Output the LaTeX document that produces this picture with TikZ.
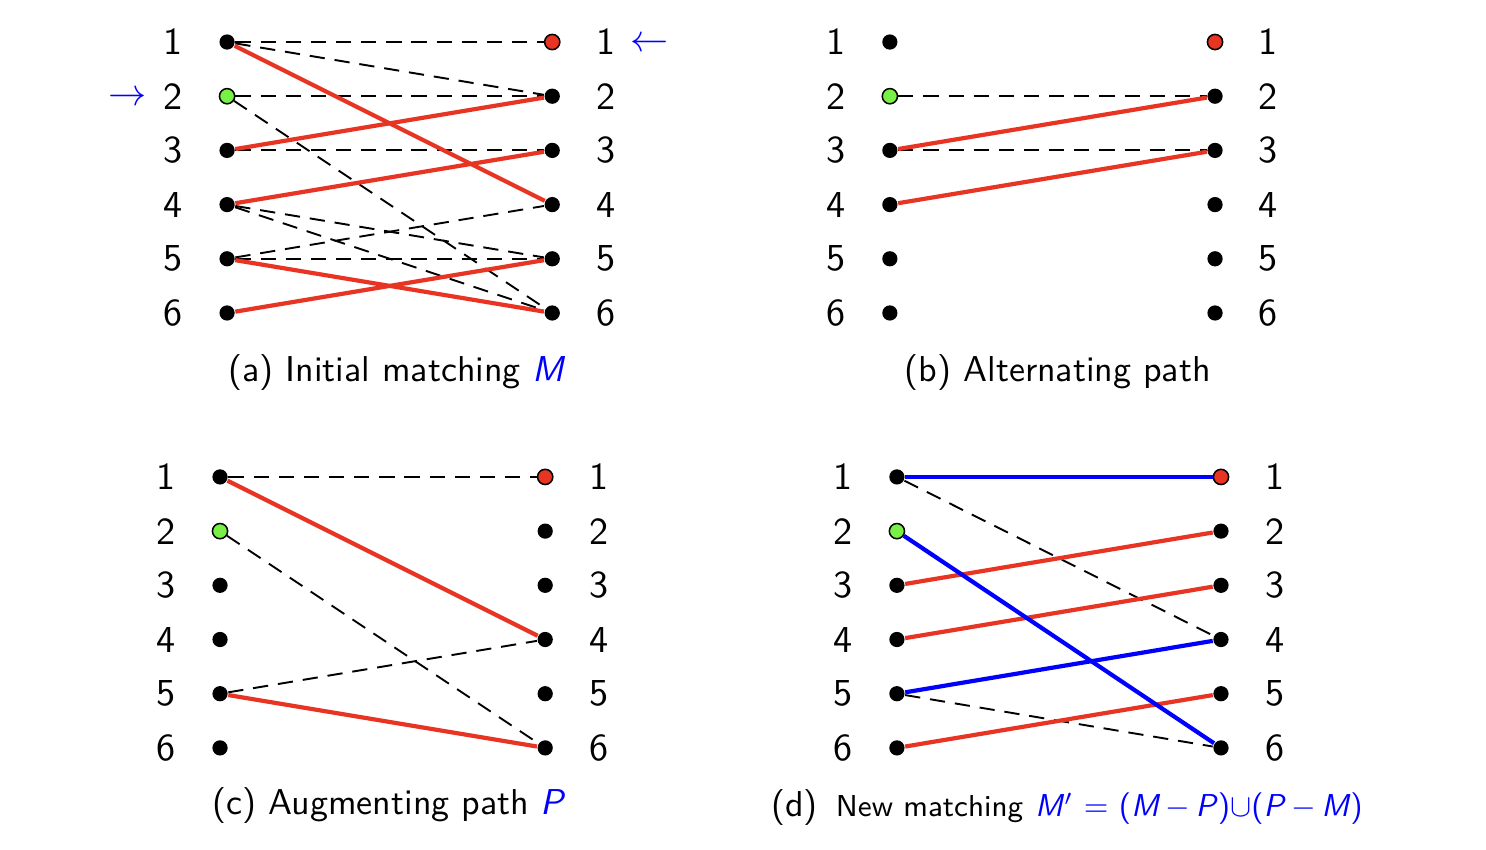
\documentclass[tikz,border=0pt]{standalone}
\usetikzlibrary{positioning}

\definecolor{matchred}{RGB}{232,52,35}
\definecolor{freegreen}{RGB}{120,240,70}

\tikzset{
    vert/.style={circle,fill=black,inner sep=0pt,minimum size=4pt},
    freevert/.style={circle,draw=black,line width=0.4pt,inner sep=0pt,minimum size=4pt},
    lab/.style={font=\sffamily},
    captext/.style={font=\sffamily,scale=0.944},
    nonedge/.style={line width=0.5pt,dash pattern=on 4pt off 2.6pt},
    medge/.style={matchred,line width=1.1pt},
    newedge/.style={blue,line width=1.1pt},
}

\begin{document}
\begin{tikzpicture}[x=0.5cm,y=-0.5cm]
    \useasboundingbox (0,0) rectangle (27.42,15.68);

    % (a) initial matching
    \begin{scope}[shift={(4.19,0.775)}]
        \foreach \i in {1,...,6} {
            \node[lab] (alab\i) at (-1,\i-1) {\i};
            \node[lab] (arlab\i) at (7,\i-1) {\i};
        }
        \foreach \i in {1,3,4,5,6} \node[vert] (al\i) at (0,\i-1) {};
        \foreach \i in {2,...,6} \node[vert] (ar\i) at (6,\i-1) {};
        \node[freevert,fill=freegreen] (al2) at (0,1) {};
        \node[freevert,fill=matchred] (ar1) at (6,0) {};

        \node[lab,text=blue] (ain) at (-1.83,1.04) {$\rightarrow$};
        \node[lab,text=blue] (aout) at (7.79,0.04) {$\leftarrow$};

        \draw[nonedge] (al1) -- (ar1);
        \draw[nonedge] (al1) -- (ar2);
        \draw[nonedge] (al2) -- (ar2);
        \draw[nonedge] (al2) -- (ar6);
        \draw[nonedge] (al3) -- (ar3);
        \draw[nonedge] (al4) -- (ar5);
        \draw[nonedge] (al4) -- (ar6);
        \draw[nonedge] (al5) -- (ar4);
        \draw[nonedge] (al5) -- (ar5);

        \draw[medge] (al1) -- (ar4);
        \draw[medge] (al3) -- (ar2);
        \draw[medge] (al4) -- (ar3);
        \draw[medge] (al5) -- (ar6);
        \draw[medge] (al6) -- (ar5);

        \node[captext] (capa) at (3.14,6.09) {(a) Initial matching {\color{blue}\textit{M}}};
    \end{scope}

    % (b) alternating path
    \begin{scope}[shift={(16.42,0.775)}]
        \foreach \i in {1,...,6} {
            \node[lab] (blab\i) at (-1,\i-1) {\i};
            \node[lab] (brlab\i) at (6.98,\i-1) {\i};
        }
        \foreach \i in {1,3,4,5,6} \node[vert] (bl\i) at (0,\i-1) {};
        \foreach \i in {2,...,6} \node[vert] (br\i) at (6,\i-1) {};
        \node[freevert,fill=freegreen] (bl2) at (0,1) {};
        \node[freevert,fill=matchred] (br1) at (6,0) {};

        \draw[nonedge] (bl2) -- (br2);
        \draw[nonedge] (bl3) -- (br3);

        \draw[medge] (bl3) -- (br2);
        \draw[medge] (bl4) -- (br3);

        \node[captext] (capb) at (3.10,6.09) {(b) Alternating path};
    \end{scope}

    % (c) augmenting path
    \begin{scope}[shift={(4.06,8.80)}]
        \foreach \i in {1,...,6} {
            \node[lab] (clab\i) at (-1,\i-1) {\i};
            \node[lab] (crlab\i) at (7,\i-1) {\i};
        }
        \foreach \i in {1,3,4,5,6} \node[vert] (cl\i) at (0,\i-1) {};
        \foreach \i in {2,...,6} \node[vert] (cr\i) at (6,\i-1) {};
        \node[freevert,fill=freegreen] (cl2) at (0,1) {};
        \node[freevert,fill=matchred] (cr1) at (6,0) {};

        \draw[nonedge] (cl1) -- (cr1);
        \draw[nonedge] (cl2) -- (cr6);
        \draw[nonedge] (cl5) -- (cr4);

        \draw[medge] (cl1) -- (cr4);
        \draw[medge] (cl5) -- (cr6);

        \node[captext] (capc) at (3.13,6.07) {(c) Augmenting path {\color{blue}\textit{P}}};
    \end{scope}

    % (d) new matching
    \begin{scope}[shift={(16.55,8.80)}]
        \foreach \i in {1,...,6} {
            \node[lab] (dlab\i) at (-1,\i-1) {\i};
            \node[lab] (drlab\i) at (6.98,\i-1) {\i};
        }
        \foreach \i in {1,3,4,5,6} \node[vert] (dl\i) at (0,\i-1) {};
        \foreach \i in {2,...,6} \node[vert] (dr\i) at (5.98,\i-1) {};
        \node[freevert,fill=freegreen] (dl2) at (0,1) {};
        \node[freevert,fill=matchred] (dr1) at (5.98,0) {};

        \draw[nonedge] (dl1) -- (dr4);
        \draw[nonedge] (dl5) -- (dr6);

        \draw[medge] (dl3) -- (dr2);
        \draw[medge] (dl4) -- (dr3);
        \draw[medge] (dl6) -- (dr5);

        \draw[newedge] (dl1) -- (dr1);
        \draw[newedge] (dl2) -- (dr6);
        \draw[newedge] (dl5) -- (dr4);

        \node[captext] (capd) at (3.14,6.1) {(d)\enspace\scalebox{0.935}{\small New matching} \scalebox{0.88}{\color{blue}\textit{M}$'$ $=$ (\textit{M}$\,-\,$\textit{P})$\cup$(\textit{P}$\,-\,$\textit{M})}};
    \end{scope}
\end{tikzpicture}
\end{document}
